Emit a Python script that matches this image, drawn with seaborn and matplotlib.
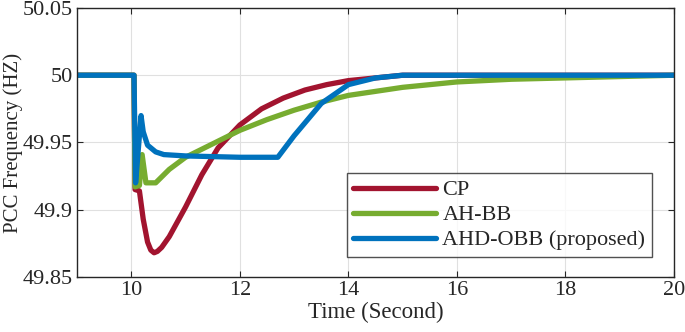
import numpy as np
import pandas as pd
import matplotlib
matplotlib.use('Agg')
import matplotlib.pyplot as plt
import seaborn as sns

sns.set_style('whitegrid')
plt.rcParams['font.family'] = ['Liberation Serif', 'DejaVu Serif']

# Dados
t_cp = [9, 10.05, 10.07, 10.15, 10.22, 10.3, 10.36, 10.42, 10.48, 10.56, 10.7, 11.0, 11.3, 11.6,
        12.0, 12.4, 12.8, 13.2, 13.6, 14.0, 14.5, 15, 16, 18, 20]
cp = [50, 50, 49.915, 49.914, 49.893, 49.876, 49.870, 49.868, 49.869, 49.872, 49.880, 49.902, 49.926, 49.946,
      49.963, 49.975, 49.983, 49.989, 49.993, 49.996, 49.998, 50.0, 50.0, 50.0, 50.0]

t_ah = [9, 10.05, 10.07, 10.15, 10.2, 10.27, 10.45, 10.7, 11.0, 11.5, 12.0, 12.5,
        13.0, 13.5, 14, 15, 16, 17, 18, 19, 20]
ah = [50, 50, 49.917, 49.918, 49.941, 49.920, 49.920, 49.930, 49.939, 49.949, 49.959, 49.967,
      49.974, 49.980, 49.985, 49.991, 49.995, 49.997, 49.998, 49.999, 50.0]

t_ahd = [9, 10.05, 10.08, 10.12, 10.18, 10.22, 10.3, 10.45, 10.6, 11.0, 12.0, 12.7,
         13.0, 13.5, 14.0, 14.5, 15.0, 16, 17, 18, 20]
ahd = [50, 50, 49.920, 49.940, 49.970, 49.958, 49.948, 49.943, 49.941, 49.940, 49.939, 49.939,
       49.955, 49.979, 49.993, 49.998, 50.0, 50.0, 50.0, 50.0, 50.0]

labels = ['CP', 'AH-BB', 'AHD-OBB (proposed)']
cores = ['#A2142F', '#77AC30', '#0072BD']

fig, ax = plt.subplots(figsize=(6.85, 3.32), dpi=100)
fig.subplots_adjust(left=0.1124, right=0.984, top=0.976, bottom=0.1657)

sns.lineplot(x=t_cp, y=cp, ax=ax, color=cores[0], linewidth=3.8, label=labels[0])
sns.lineplot(x=t_ah, y=ah, ax=ax, color=cores[1], linewidth=3.8, label=labels[1])
sns.lineplot(x=t_ahd, y=ahd, ax=ax, color=cores[2], linewidth=3.8, label=labels[2])

ax.set_xlim(9, 20)
ax.set_ylim(49.85, 50.05)
ax.set_xticks([10, 12, 14, 16, 18, 20])
ax.set_yticks([49.85, 49.9, 49.95, 50, 50.05])
ax.set_yticklabels(['49.85', '49.9', '49.95', '50', '50.05'])
ax.grid(True, color='#e0e0e0', linewidth=0.8)
for s in ax.spines.values():
    s.set_color('#262626')
    s.set_linewidth(1.0)
ax.tick_params(direction='in', length=4, width=0.8, colors='#262626',
               labelsize=16, top=True, right=True, bottom=True, left=True, pad=3)

ax.set_xlabel('Time (Second)', fontsize=16.5, color='#262626', labelpad=1)
ax.set_ylabel('PCC Frequency (HZ)', fontsize=15, color='#262626', labelpad=0)
ax.yaxis.set_label_coords(-0.091, 0.5)

leg = ax.legend(loc='lower right', bbox_to_anchor=(0.963, 0.074), fontsize=16,
                frameon=True, fancybox=False, edgecolor='#262626', handlelength=3.7,
                borderpad=0.3, labelspacing=0.2, handletextpad=0.3, borderaxespad=0)
leg.get_frame().set_linewidth(1.0)
for l in leg.get_lines():
    l.set_linewidth(3.8)

plt.savefig('out.png', dpi=100)
